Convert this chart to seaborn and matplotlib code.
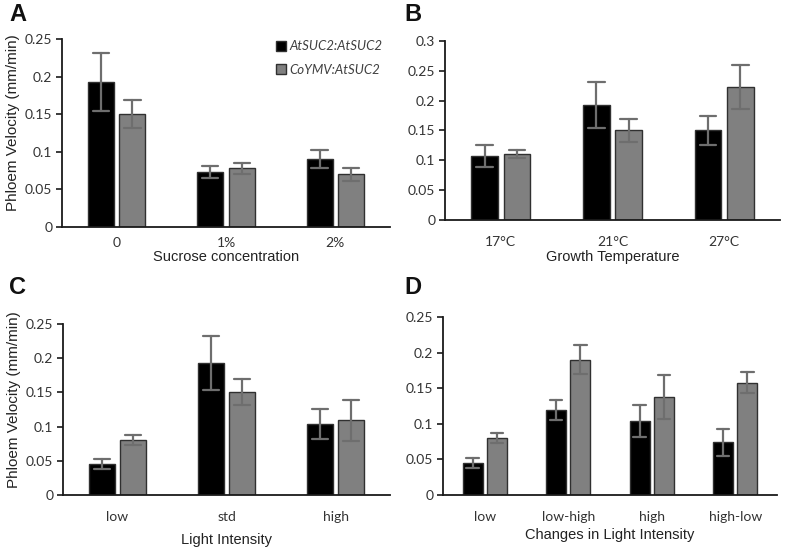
import numpy as np
import pandas as pd
import matplotlib
matplotlib.use("Agg")
import matplotlib.pyplot as plt
import seaborn as sns

# ---------------- data ----------------
genotypes = ["AtSUC2:AtSUC2", "CoYMV:AtSUC2"]

a_cats = ["0", "1%", "2%"]
a_black = [0.193, 0.073, 0.090]
a_black_err = [0.039, 0.008, 0.012]
a_gray = [0.150, 0.078, 0.070]
a_gray_err = [0.019, 0.007, 0.009]

b_cats = ["17°C", "21°C", "27°C"]
b_black = [0.107, 0.193, 0.150]
b_black_err = [0.018, 0.039, 0.025]
b_gray = [0.111, 0.150, 0.223]
b_gray_err = [0.007, 0.019, 0.037]

c_cats = ["low", "std", "high"]
c_black = [0.045, 0.193, 0.104]
c_black_err = [0.007, 0.039, 0.022]
c_gray = [0.080, 0.150, 0.109]
c_gray_err = [0.007, 0.019, 0.030]

d_cats = ["low", "low-high", "high", "high-low"]
d_black = [0.045, 0.120, 0.104, 0.074]
d_black_err = [0.007, 0.014, 0.022, 0.019]
d_gray = [0.080, 0.190, 0.138, 0.158]
d_gray_err = [0.007, 0.020, 0.031, 0.015]

yticks_025 = [0, 0.05, 0.1, 0.15, 0.2, 0.25]
yticklabels_025 = ["0", "0.05", "0.1", "0.15", "0.2", "0.25"]
yticks_03 = [0, 0.05, 0.1, 0.15, 0.2, 0.25, 0.3]
yticklabels_03 = ["0", "0.05", "0.1", "0.15", "0.2", "0.25", "0.3"]

ylabel = "Phloem Velocity (mm/min)"
xlabels = ["Sucrose concentration", "Growth Temperature", "Light Intensity",
           "Changes in Light Intensity"]
panel_letters = ["A", "B", "C", "D"]


def make_df(cats, black, black_err, gray, gray_err):
    rows = []
    for i, c in enumerate(cats):
        for g, m, e in ((genotypes[0], black[i], black_err[i]),
                        (genotypes[1], gray[i], gray_err[i])):
            rows.append({"cat": c, "geno": g, "v": m - e})
            rows.append({"cat": c, "geno": g, "v": m + e})
    return pd.DataFrame(rows)


sns.set_theme(style="white")
plt.rcParams["font.family"] = ["Lato", "DejaVu Sans"]

W, H = 785, 549
fig = plt.figure(figsize=(W / 100, H / 100), dpi=100)


def px_axes(left, right, top, bottom):
    return fig.add_axes([left / W, 1 - bottom / H, (right - left) / W, (bottom - top) / H])


palette = {genotypes[0]: "#000000", genotypes[1]: "#808080"}

panels = [
    (px_axes(62, 390, 39, 227), make_df(a_cats, a_black, a_black_err, a_gray, a_gray_err), a_cats,
     yticks_025, yticklabels_025, 0.25, -0.122),
    (px_axes(445, 780, 41, 220), make_df(b_cats, b_black, b_black_err, b_gray, b_gray_err), b_cats,
     yticks_03, yticklabels_03, 0.3, -0.168),
    (px_axes(63, 390, 324, 495), make_df(c_cats, c_black, c_black_err, c_gray, c_gray_err), c_cats,
     yticks_025, yticklabels_025, 0.25, -0.222),
    (px_axes(443, 777, 317, 495), make_df(d_cats, d_black, d_black_err, d_gray, d_gray_err), d_cats,
     yticks_025, yticklabels_025, 0.25, -0.185),
]

tick_pad = [1.5, 5.5, 5.5, 5.5]

for k, (ax, df, cats, yt, ytl, ymax, xl_y) in enumerate(panels):
    sns.barplot(data=df, x="cat", y="v", hue="geno", order=cats, hue_order=genotypes,
                palette=palette, estimator="mean",
                errorbar=lambda x: (np.min(x), np.max(x)),
                width=0.576, gap=0.17, capsize=0.3,
                err_kws={"color": "#6e6e6e", "linewidth": 1.6},
                edgecolor="#303030", linewidth=1.0, saturation=1,
                legend=(k == 0), ax=ax)
    ax.set_ylim(0, ymax)
    ax.set_yticks(yt)
    ax.set_yticklabels(ytl)
    for s in ("top", "right"):
        ax.spines[s].set_visible(False)
    for s in ("left", "bottom"):
        ax.spines[s].set_color("#1a1a1a")
        ax.spines[s].set_linewidth(1.3)
    ax.tick_params(axis="y", which="major", left=True, length=4, width=1.2,
                   color="#1a1a1a", labelsize=10, labelcolor="#333333", pad=3)
    ax.tick_params(axis="x", bottom=False, labelsize=10, labelcolor="#333333", pad=tick_pad[k])
    ax.set_xlabel(xlabels[k], fontsize=10.5, family=["Liberation Sans"], color="#222222")
    ax.xaxis.set_label_coords(0.5, xl_y)
    if k in (0, 2):
        ax.set_ylabel(ylabel, fontsize=11, family=["Liberation Sans"], color="#222222")
        ax.yaxis.set_label_coords(-0.128, 0.557)
    else:
        ax.set_ylabel("")

# legend for panel A
axA = panels[0][0]
sns.move_legend(axA, "upper right", bbox_to_anchor=(1.0, 1.035), title=None, frameon=False,
                handlelength=0.75, handleheight=0.75, handletextpad=0.25, labelspacing=0.85,
                borderaxespad=0.2, fontsize=9.5)
leg = axA.get_legend()
for t in leg.get_texts():
    t.set_color("#404040")
    t.set_style("italic")
for h in leg.legend_handles:
    h.set_edgecolor("#303030")
    h.set_linewidth(1.0)

# panel letters
letter_pos = [(9, 3), (404, 3), (9, 276), (404, 276)]
for letter, (x, y) in zip(panel_letters, letter_pos):
    fig.text(x / W, 1 - y / H, letter, fontsize=17, fontweight="bold",
             family=["Liberation Sans"], va="top", ha="left", color="#111111")

fig.savefig("out.png", dpi=100)
